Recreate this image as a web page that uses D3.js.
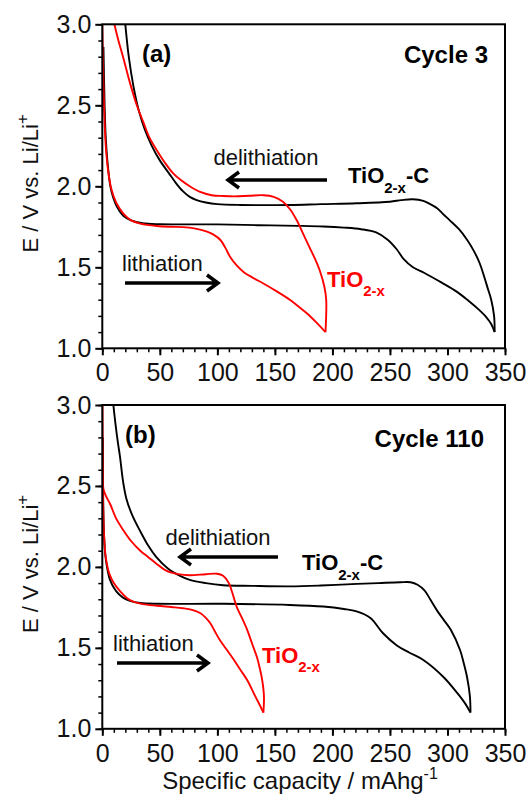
<!DOCTYPE html>
<html>
  <head>
    <meta charset="utf-8">
    <title>TiO2-x charge/discharge</title>
    <script src="https://d3js.org/d3.v7.min.js"></script>
    <style>
      html, body { margin: 0; background: #fff; }
      text { font-family: Arial, "Liberation Sans", sans-serif; }
    </style>
  </head>
  <body>
    <script>

    // tick values
    var xTicks = [0, 50, 100, 150, 200, 250, 300, 350];
    var yTicks = [1.0, 1.5, 2.0, 2.5, 3.0];

    // cycle 3: [capacity mAh/g, E V]
    var c3CarbonLith = [[1,2.86],[2,2.5],[3,2.3],[4.5,2.15],[7,2.0],[9.5,1.93],[13,1.87],[18,1.82],[25,1.79],[35,1.772],[50,1.766],[76,1.765],[100,1.765],[135,1.76],[170,1.756],[192,1.752],[210,1.745],[225,1.735],[238,1.715],[248,1.67],[256,1.61],[262,1.55],[270,1.5],[280,1.465],[295,1.405],[308,1.35],[318,1.295],[327,1.24],[334,1.19],[338,1.15],[341,1.1]];
    var c3CarbonDelith = [[341,1.1],[340.5,1.2],[338,1.3],[335,1.37],[332,1.44],[328,1.525],[323,1.6],[317,1.67],[310,1.735],[302,1.79],[296,1.83],[291,1.865],[285,1.89],[279,1.91],[270,1.92],[260,1.915],[250,1.905],[221,1.895],[190,1.89],[163,1.885],[120,1.885],[100,1.89],[90,1.9],[82,1.915],[76,1.935],[70,1.97],[64,2.02],[58,2.08],[50,2.16],[43,2.25],[37,2.35],[32,2.46],[27,2.62],[23,2.8],[20,3.0]];
    var c3OxideLith = [[0,3.0],[0.5,2.8],[1.5,2.5],[3,2.25],[5,2.1],[8,1.98],[12,1.9],[18.5,1.83],[25,1.79],[33,1.77],[47.5,1.755],[60,1.75],[70,1.748],[80,1.74],[91,1.72],[97,1.7],[102.5,1.67],[107,1.62],[111,1.565],[117,1.51],[123,1.47],[131,1.435],[140,1.4],[152,1.35],[163,1.3],[171,1.255],[178,1.215],[186,1.16],[194,1.1]];
    var c3OxideDelith = [[194,1.1],[194.6,1.3],[193,1.38],[189,1.48],[185,1.55],[180,1.625],[175,1.7],[169,1.79],[163,1.86],[157,1.905],[149,1.935],[140,1.945],[128,1.942],[115,1.938],[105,1.94],[95,1.945],[85,1.965],[76,2.0],[68,2.04],[61.6,2.08],[55,2.14],[47.6,2.22],[41,2.3],[36,2.39],[30,2.5],[24,2.64],[18,2.8],[14,2.9],[10.5,3.0]];

    // cycle 110
    var c110CarbonLith = [[0.5,2.8],[0.8,2.4],[1.5,2.2],[3,2.05],[6.7,1.92],[12,1.85],[18,1.81],[24,1.79],[33,1.777],[47.5,1.772],[105,1.772],[163,1.765],[192,1.755],[210,1.74],[221,1.725],[233,1.685],[244,1.59],[256,1.515],[267,1.47],[279,1.425],[296.5,1.32],[308.6,1.22],[315,1.16],[320,1.1]];
    var c110CarbonDelith = [[320,1.1],[319.5,1.2],[317,1.32],[314,1.41],[311,1.485],[303,1.61],[297,1.67],[291,1.73],[285,1.8],[280,1.855],[274,1.89],[268,1.905],[259,1.905],[240,1.9],[221.5,1.895],[190,1.885],[163,1.88],[130,1.883],[105,1.887],[90,1.9],[76,1.92],[67.6,1.945],[57,1.99],[47,2.06],[40,2.13],[33,2.22],[26,2.32],[21,2.42],[18,2.53],[15.4,2.68],[13.5,2.77],[11.5,2.88],[9.6,3.0]];
    var c110OxideLith = [[0,3.0],[0.3,2.7],[0.7,2.4],[1.5,2.2],[3,2.06],[6,1.96],[10,1.9],[15.4,1.85],[21,1.81],[27,1.785],[35,1.77],[47.5,1.76],[60,1.752],[70,1.745],[78,1.735],[85,1.715],[90,1.685],[94,1.65],[98,1.6],[102,1.55],[108,1.49],[114,1.43],[120,1.365],[126,1.3],[133,1.2],[138,1.13],[140,1.1]];
    var c110OxideDelith = [[140,1.1],[140.5,1.2],[139,1.3],[137,1.37],[134.5,1.44],[130,1.53],[126,1.61],[121,1.69],[117,1.75],[113,1.84],[110,1.9],[105,1.945],[99.6,1.958],[90,1.955],[76,1.948],[66,1.955],[56,1.975],[47,2.02],[40,2.06],[33,2.1],[25,2.16],[18,2.23],[12,2.3],[6.7,2.39],[3,2.44],[1,2.48],[0.3,2.6],[0,3.0]];

    var W = 527, H = 799;
    var svg = d3.select("body").append("svg")
        .attr("width", W).attr("height", H);

    var x = d3.scaleLinear().domain([0, 350]).range([102.3, 505]);

    var panels = [
      { top: 24.3, bottom: 348.3, tag: "(a)", cycle: "Cycle 3",
        series: [[c3CarbonLith, "#000"], [c3CarbonDelith, "#000"], [c3OxideLith, "#f00"], [c3OxideDelith, "#f00"]],
        lab: { delith: [266, 165], delArrow: [327, 228, 180], carbon: [348, 183], lith: [122, 271], lithArrow: [125, 218, 283], oxide: [327, 287], tagPos: [142, 62], cyclePos: [488, 63] } },
      { top: 405, bottom: 728.8, tag: "(b)", cycle: "Cycle 110",
        series: [[c110CarbonLith, "#000"], [c110CarbonDelith, "#000"], [c110OxideLith, "#f00"], [c110OxideDelith, "#f00"]],
        lab: { delith: [218, 545], delArrow: [278, 180, 557], carbon: [302, 570], lith: [113, 651], lithArrow: [117, 208, 663], oxide: [262, 663], tagPos: [125, 443], cyclePos: [484, 447] } }
    ];

    panels.forEach(function(p, i) {
      var y = d3.scaleLinear().domain([1.0, 3.0]).range([p.bottom, p.top]);
      var g = svg.append("g");

      // clip so curves stop at the frame
      var clipId = "clip" + i;
      svg.append("clipPath").attr("id", clipId).append("rect")
        .attr("x", x(0)).attr("y", y(3)).attr("width", x(350) - x(0)).attr("height", y(1) - y(3));

      var line = d3.line()
        .x(function(d) { return x(d[0]); })
        .y(function(d) { return y(d[1]); })
        .curve(d3.curveCatmullRom.alpha(0.5));

      g.append("g").attr("clip-path", "url(#" + clipId + ")")
        .selectAll("path").data(p.series).enter().append("path")
        .attr("d", function(s) { return line(s[0]); })
        .attr("fill", "none")
        .attr("stroke", function(s) { return s[1]; })
        .attr("stroke-width", 1.9)
        .attr("stroke-linejoin", "round");

      // minor ticks
      g.append("g").attr("transform", "translate(0," + p.bottom + ")")
        .call(d3.axisBottom(x).tickValues(d3.range(0, 351, 10)).tickSize(4).tickFormat(""))
        .call(function(a) { a.select(".domain").remove(); a.selectAll("line").attr("stroke-width", 1.5); });
      g.append("g").attr("transform", "translate(" + x(0) + ",0)")
        .call(d3.axisLeft(y).tickValues(d3.range(10, 31).map(function(v) { return v / 10; })).tickSize(4).tickFormat(""))
        .call(function(a) { a.select(".domain").remove(); a.selectAll("line").attr("stroke-width", 1.5); });

      // major ticks with labels
      g.append("g").attr("transform", "translate(0," + p.bottom + ")")
        .call(d3.axisBottom(x).tickValues(xTicks).tickSize(7).tickPadding(8).tickFormat(d3.format("d")))
        .call(function(a) {
          a.select(".domain").remove();
          a.selectAll("line").attr("stroke-width", 2);
          a.selectAll("text").attr("font-size", 25).attr("fill", "#111");
        });
      g.append("g").attr("transform", "translate(" + x(0) + ",0)")
        .call(d3.axisLeft(y).tickValues(yTicks).tickSize(7).tickPadding(4).tickFormat(d3.format(".1f")))
        .call(function(a) {
          a.select(".domain").remove();
          a.selectAll("line").attr("stroke-width", 2);
          a.selectAll("text").attr("font-size", 25).attr("fill", "#111");
        });

      // frame
      g.append("rect")
        .attr("x", x(0)).attr("y", y(3)).attr("width", x(350) - x(0)).attr("height", y(1) - y(3))
        .attr("fill", "none").attr("stroke", "#000").attr("stroke-width", 2);

      // y title
      var yt = g.append("text")
        .attr("transform", "translate(38," + ((p.top + p.bottom) / 2 - 3) + ") rotate(-90)")
        .attr("text-anchor", "middle").attr("font-size", 22).attr("fill", "#111");
      yt.append("tspan").text("E / V vs. Li/Li");
      yt.append("tspan").attr("dy", -10).attr("font-size", 17).text("+");

      var L = p.lab;
      g.append("text").attr("x", L.tagPos[0]).attr("y", L.tagPos[1])
        .attr("font-size", 24).attr("font-weight", "bold").text(p.tag);
      g.append("text").attr("x", L.cyclePos[0]).attr("y", L.cyclePos[1]).attr("text-anchor", "end")
        .attr("font-size", 24).attr("font-weight", "bold").text(p.cycle);

      g.append("text").attr("x", L.delith[0]).attr("y", L.delith[1]).attr("text-anchor", "middle")
        .attr("font-size", 22).attr("fill", "#111").text("delithiation");
      g.append("text").attr("x", L.lith[0]).attr("y", L.lith[1])
        .attr("font-size", 22).attr("fill", "#111").text("lithiation");

      // arrows: [from, to, y]
      [L.delArrow, L.lithArrow].forEach(function(a) {
        var dir = a[1] > a[0] ? 1 : -1;
        g.append("path")
          .attr("d", "M" + a[0] + "," + a[2] + "H" + a[1] +
                     "M" + (a[1] - dir * 11) + "," + (a[2] - 8) + "L" + a[1] + "," + a[2] + "L" + (a[1] - dir * 11) + "," + (a[2] + 8))
          .attr("fill", "none").attr("stroke", "#000").attr("stroke-width", 3.5)
          .attr("stroke-linejoin", "miter");
      });

      var ct = g.append("text").attr("x", L.carbon[0]).attr("y", L.carbon[1])
        .attr("font-size", 22).attr("font-weight", "bold").attr("fill", "#000");
      ct.append("tspan").text("TiO");
      ct.append("tspan").attr("dy", 10).attr("font-size", 15).text("2-x");
      ct.append("tspan").attr("dy", -10).text("-C");

      var ot = g.append("text").attr("x", L.oxide[0]).attr("y", L.oxide[1])
        .attr("font-size", 22).attr("font-weight", "bold").attr("fill", "#f00");
      ot.append("tspan").text("TiO");
      ot.append("tspan").attr("dy", 9).attr("font-size", 15).text("2-x");
    });

    var xt = svg.append("text")
      .attr("x", 300).attr("y", 789).attr("text-anchor", "middle")
      .attr("font-size", 24).attr("fill", "#111");
    xt.append("tspan").text("Specific capacity / mAhg");
    xt.append("tspan").attr("dy", -10).attr("font-size", 16).text("-1");

    </script>
  </body>
</html>
